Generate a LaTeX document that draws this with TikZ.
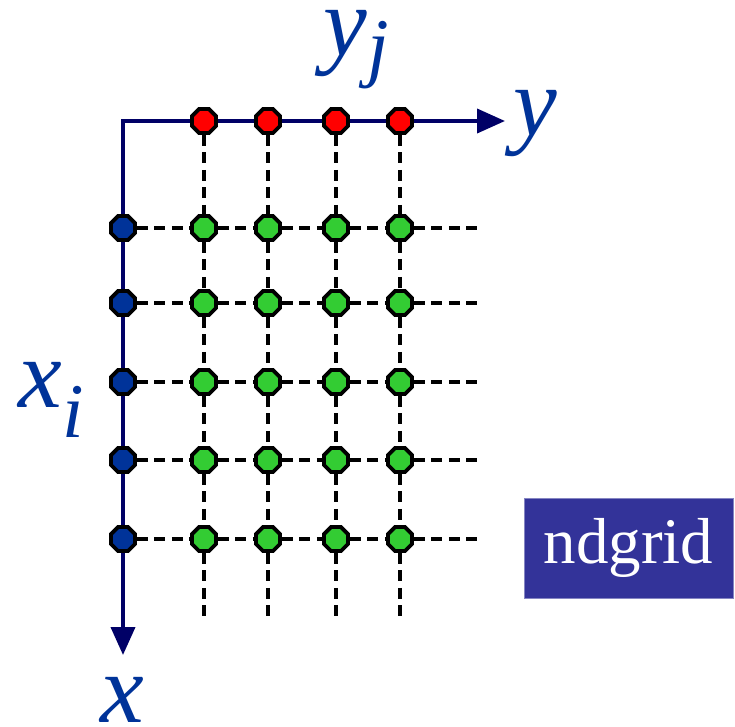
\documentclass[tikz,border=0pt]{standalone}
\usepackage{fontspec}
\setmainfont{Liberation Serif}
\usetikzlibrary{arrows.meta, shapes.geometric}
\definecolor{mnavy}{HTML}{000066}
\definecolor{mlabel}{HTML}{003399}
\definecolor{mred}{HTML}{FF0000}
\definecolor{mgreen}{HTML}{33CC33}
\definecolor{mblue}{HTML}{003399}
\definecolor{mbox}{HTML}{333399}
\tikzset{
  dot/.style={regular polygon, regular polygon sides=8, draw=black, line width=2.2pt,
              minimum size=0.52cm, inner sep=0pt},
  rdot/.style={dot, fill=mred},
  gdot/.style={dot, fill=mgreen},
  bdot/.style={dot, fill=mblue},
  axis/.style={line width=2.2pt, mnavy, line join=miter},
  axarr/.style={axis, -{Triangle[length=0.56cm, width=0.48cm]}},
  gline/.style={line width=2.1pt, dash pattern=on 0.22cm off 0.13cm},
  lbl/.style={font=\fontsize{56}{56}\selectfont\itshape, text=mlabel, inner sep=0pt},
  tagbox/.style={fill=mbox, draw=mbox!60, text=white, font=\fontsize{37}{37}\selectfont,
                 minimum width=4.18cm, minimum height=2cm, inner sep=0pt},
}
\newcommand{\lblsub}[2]{\raisebox{#1}{\fontsize{44}{44}\selectfont #2}}

\begin{document}
\begin{tikzpicture}[x=0.02cm, y=-0.02cm]
  \useasboundingbox (0,0) rectangle (735,727);

  %% Axis corner and free ends
  \coordinate (o) at (123,121);
  \coordinate (yend) at (505,121);
  \coordinate (xend) at (123,655);

  %% Points on the y axis
  \foreach \j/\x in {1/204, 2/268, 3/336, 4/400}{
    \node[rdot] (r\j) at (\x,121) {};
  }

  %% Points on the x axis
  \foreach \i/\y in {1/228, 2/303, 3/382, 4/460, 5/539}{
    \node[bdot] (b\i) at (123,\y) {};
  }

  %% Grid points
  \foreach \i/\y in {1/228, 2/303, 3/382, 4/460, 5/539}{
    \foreach \j/\x in {1/204, 2/268, 3/336, 4/400}{
      \node[gdot] (g\i\j) at (\x,\y) {};
    }
  }

  %% Dashed rows
  \foreach \i/\y in {1/228, 2/303, 3/382, 4/460, 5/539}{
    \coordinate (h\i) at (478,\y);
    \draw[gline] (b\i) -- (g\i1) -- (g\i2) -- (g\i3) -- (g\i4) -- (h\i);
  }

  %% Dashed columns
  \foreach \j/\x in {1/204, 2/268, 3/336, 4/400}{
    \coordinate (v\j) at (\x,618);
    \draw[gline] (r\j) -- (g1\j) -- (g2\j) -- (g3\j) -- (g4\j) -- (g5\j) -- (v\j);
  }

  %% Axes
  \draw[axis] (b1) -- (o) -- (r1);
  \draw[axis] (b1) -- (b2) -- (b3) -- (b4) -- (b5);
  \draw[axis] (r1) -- (r2) -- (r3) -- (r4);
  \draw[axarr] (r4) -- (yend);
  \draw[axarr] (b5) -- (xend);

  %% Labels
  \node[lbl, anchor=base west] (ylbl) at (513,135) {y};
  \node[lbl, anchor=base west, text height=1cm] (yjlbl) at (323,55) {y\lblsub{-0.36cm}{j}};
  \node[lbl, anchor=base west] (xilbl) at (18,407) {x\lblsub{-0.62cm}{i}};
  \node[lbl, anchor=base west, text depth=0.05cm] (xlbl) at (100,722) {x};

  \node[tagbox] (tag) at (628.5,548) {ndgrid};

\end{tikzpicture}
\end{document}
